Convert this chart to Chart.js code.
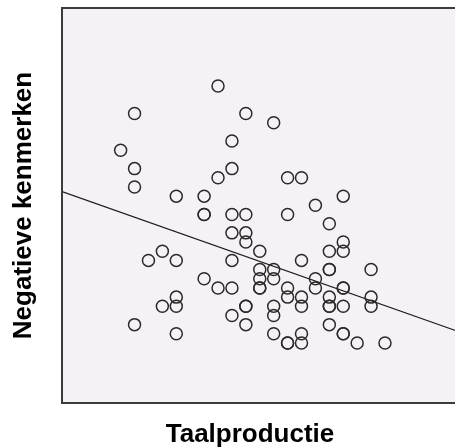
<!DOCTYPE html>
<html>
<head>
<meta charset="utf-8">
<script src="https://cdn.jsdelivr.net/npm/chart.js@4.4.1/dist/chart.umd.min.js"></script>
<style>
  html, body { margin: 0; padding: 0; background: #fff; overflow: hidden; }
  #wrap { width: 470px; height: 448px; }
</style>
</head>
<body>
<div id="wrap"><canvas id="scatter-chart" width="470" height="448"></canvas></div>
<script>
// Taalproductie (x) en Negatieve kenmerken (y)
const taalproductie = [
  8, 2, 10, 12, 9, 1, 2, 9, 2, 8, 13, 14, 5, 7, 17, 7, 7, 9, 10, 13,
  15, 16, 9, 10, 10, 17, 4, 11, 16, 17, 3, 5, 9, 14, 11, 12, 16, 16, 19, 7,
  11, 12, 15, 8, 9, 11, 11, 13, 15, 17, 17, 5, 13, 14, 16, 19, 4, 5, 10, 10,
  12, 14, 16, 16, 17, 19, 2, 9, 12, 10, 16, 5, 12, 14, 17, 17, 13, 13, 14, 18, 20,
]
const negatieveKenmerken = [
  28, 25, 25, 24, 22, 21, 19, 19, 17, 18, 18, 18, 16, 16, 16, 14, 14, 14, 14, 14,
  15, 13, 12, 12, 11, 11, 10, 10, 10, 10, 9, 9, 9, 9, 8, 8, 8, 8, 8, 7,
  7, 7, 7, 6, 6, 6, 6, 6, 6, 6, 6, 5, 5, 5, 5, 5, 4, 4, 4, 4,
  4, 4, 4, 4, 4, 4, 2, 3, 3, 2, 2, 1, 1, 1, 1, 1, 0, 0, 0, 0, 0,
]

// regressielijn: y = intercept + slope * x
const intercept = 14.77
const slope = -0.535

const xMin = -3.214
const xMax = 25.571
const yMin = -6.537
const yMax = 36.5

const xTitle = 'Taalproductie'
const yTitle = 'Negatieve kenmerken'

const points = taalproductie.map((x, i) => ({ x: x, y: negatieveKenmerken[i] }))
const fitLine = [
  { x: xMin, y: intercept + slope * xMin },
  { x: xMax, y: intercept + slope * xMax },
]

const titleFont = { family: '"Liberation Sans", Arial, sans-serif', size: 26, weight: 'bold', lineHeight: 1.2 }

// achtergrond + kader van het plotvlak, en de x-as titel (staat iets links van het midden)
const plotBox = {
  id: 'plotBox',
  beforeDatasetsDraw(chart) {
    const { ctx, chartArea: a } = chart
    ctx.save()
    ctx.fillStyle = '#f5f1f5'
    ctx.fillRect(a.left, a.top, a.right - a.left, a.bottom - a.top)
    ctx.restore()
  },
  afterDatasetsDraw(chart) {
    const { ctx, chartArea: a } = chart
    ctx.save()
    ctx.strokeStyle = '#3c3c3c'
    ctx.lineWidth = 2
    ctx.strokeRect(a.left, a.top, a.right - a.left, a.bottom - a.top)
    ctx.fillStyle = '#000'
    ctx.font = 'bold 26px "Liberation Sans", Arial, sans-serif'
    ctx.textAlign = 'center'
    ctx.textBaseline = 'alphabetic'
    ctx.fillText(xTitle, 250, 442)
    ctx.restore()
  },
}

const data = {
  datasets: [
    {
      type: 'scatter',
      data: points,
      pointStyle: 'circle',
      pointRadius: 6,
      pointBorderWidth: 1.5,
      borderColor: '#2a2a2a',
      backgroundColor: 'rgba(0,0,0,0)',
      pointHoverRadius: 6,
    },
    {
      type: 'line',
      data: fitLine,
      borderColor: '#1a1a1a',
      borderWidth: 1.3,
      pointRadius: 0,
      fill: false,
    },
  ],
}

const config = {
  type: 'scatter',
  data: data,
  options: {
    responsive: false,
    animation: false,
    devicePixelRatio: 1,
    layout: { padding: { left: 0, top: 8, right: 5, bottom: 0 } },
    plugins: { legend: { display: false }, tooltip: { enabled: false } },
    scales: {
      x: {
        type: 'linear',
        min: xMin,
        max: xMax,
        grid: { display: false, drawTicks: false },
        border: { display: false },
        ticks: { display: false },
        title: { display: false, text: xTitle },
        afterFit(scale) { scale.height = 45 },
      },
      y: {
        type: 'linear',
        min: yMin,
        max: yMax,
        grid: { display: false, drawTicks: false },
        border: { display: false },
        ticks: { display: false },
        title: { display: true, text: yTitle, color: '#000', font: titleFont, padding: { top: 8, bottom: 0 } },
        afterFit(scale) { scale.width = 62 },
      },
    },
  },
  plugins: [plotBox],
}

const scatter_chart = document.getElementById('scatter-chart')
const chart = new Chart(scatter_chart, config)
</script>
</body>
</html>
